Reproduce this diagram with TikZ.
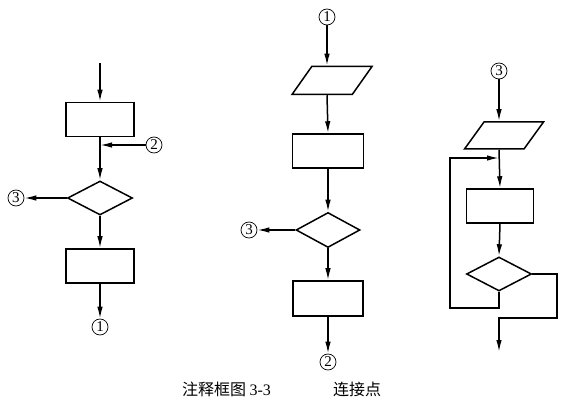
\documentclass[tikz,border=0pt]{standalone}
\usepackage{fontspec}
\setmainfont{Liberation Serif}
\newfontfamily\cjk{Noto Sans CJK SC}
\usepackage{tikz}
\usetikzlibrary{arrows.meta,shapes.geometric}
\tikzset{
	blk/.style={draw, rectangle, line width=1.5pt, minimum width=68pt, minimum height=34pt, inner sep=0pt},
	decide/.style={draw, diamond, line width=1.5pt, minimum width=65pt, minimum height=34pt, inner sep=0pt},
	inout/.style={draw, trapezium, trapezium left angle=64, trapezium right angle=116, trapezium stretches=true, line width=1.5pt, minimum width=80pt, minimum height=28pt, inner sep=2pt},
	conn/.style={draw, circle, line width=0.7pt, minimum size=16pt, inner sep=0pt, font=\fontsize{15}{15}\selectfont},
}
\begin{document}
\begin{tikzpicture}[x=1pt, y=-1pt, >={Latex[length=12pt,width=5.5pt]}, line width=1.5pt]
		%				\draw [help lines] (0,0) grid (579,401);
		\useasboundingbox (0,0) rectangle (579,401);
		% left chart
		\coordinate (lt) at (100,63);
		\node [blk] (lb1) at (100,119.5) {};
		\coordinate (lj) at (100,145);
		\node [conn] (c2a) at (154,145) {2};
		\node [decide] (ld) at (100,198) {};
		\node [conn] (c3a) at (16,198) {3};
		\node [blk] (lb2) at (100,266) {};
		\node [conn] (c1a) at (100,327) {1};
		\draw [->] (lt) -- (lb1.north);
		\draw [->] (lb1.south) -- (ld.north);
		\draw [->] (c2a) -- (lj);
		\draw [->] (ld.west) -- (c3a);
		\draw [->] (ld.south) -- (lb2.north);
		\draw [->] (lb2.south) -- (c1a);
		% middle chart
		\node [conn] (c1b) at (327,17) {1};
		\node [inout] (mp) at (332,80.5) {};
		\node [blk, minimum width=71pt] (mb1) at (328,151) {};
		\node [decide, minimum width=64pt, minimum height=35pt] (md) at (328,230) {};
		\node [conn] (c3b) at (249,230) {3};
		\node [blk, minimum width=70pt, minimum height=35pt] (mb2) at (328,298.5) {};
		\node [conn] (c2b) at (328,362) {2};
		\draw [->] (c1b) -- (c1b |- mp.north);
		\draw [->] (c1b |- mp.south) -- (mb1.north);
		\draw [->] (mb1.south) -- (md.north);
		\draw [->] (md.west) -- (c3b);
		\draw [->] (md.south) -- (mb2.north);
		\draw [->] (mb2.south) -- (c2b);
		% right chart
		\node [conn] (c3c) at (499,71) {3};
		\node [inout, minimum width=79pt, minimum height=27pt] (rp) at (504,135.5) {};
		\coordinate (rj) at (499,158);
		\node [blk, minimum width=67pt] (rb) at (500,206) {};
		\node [decide] (rd) at (499,274) {};
		\coordinate (rlb) at (450,308);
		\coordinate (rr) at (557,318);
		\coordinate (rout) at (499,352);
		\draw [->] (c3c) -- (c3c |- rp.north);
		\draw [->] (c3c |- rp.south) -- (rb.north);
		\draw [->] (rb.south) -- (rd.north);
		\draw [->] (rd.south) |- (rlb) |- (rj);
		\draw [->] (rd.east) -| (rr) -| (rout);
		% caption
		\node [anchor=west, font=\fontsize{16}{18}\selectfont] (cap) at (178,389) {\cjk 注释框图\ \rmfamily 3-3};
		\node [font=\fontsize{16}{18}\selectfont] (cap2) at (357,389) {\cjk 连接点};
	\end{tikzpicture}
\end{document}
